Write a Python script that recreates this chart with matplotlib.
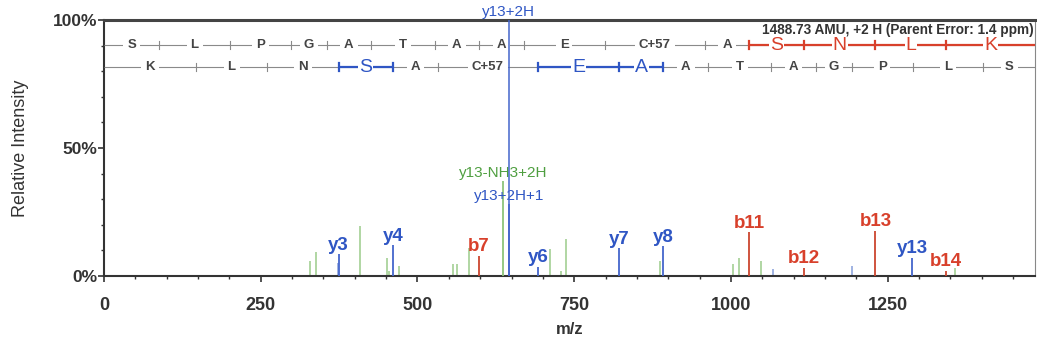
import matplotlib
matplotlib.use("Agg")
import matplotlib.pyplot as plt
import numpy as np

plt.rcParams['font.family'] = ['Liberation Sans', 'DejaVu Sans']

# ---------------- data ----------------
x_max = 1485.0
header = "1488.73 AMU, +2 H (Parent Error: 1.4 ppm)"

# b-ladder (forward) and y-ladder (reverse)
b_residues = ["S", "L", "P", "G", "A", "T", "A", "A", "E", "C+57", "A", "S", "N", "L", "K"]
b_ion_mz = [88.04, 201.12, 298.18, 355.20, 426.23, 527.28, 598.32, 669.36,
            798.40, 958.43, 1029.47, 1116.50, 1230.54, 1343.63]
b_observed = [7, 11, 12, 13, 14]

y_residues = ["K", "L", "N", "S", "A", "C+57", "E", "A", "A", "T", "A", "G", "P", "L", "S"]
y_ion_mz = [147.11, 260.20, 374.24, 461.27, 532.31, 692.34, 821.38, 892.42,
            963.46, 1064.51, 1135.55, 1192.57, 1289.62, 1402.71]
y_observed = [3, 4, 6, 7, 8, 13]

# labelled peaks
lab_mz = [374.2, 461.3, 598.3, 692.3, 821.4, 892.4, 1029.5, 1116.5, 1230.5, 1289.6, 1343.6]
lab_int = [8.5, 12.0, 8.0, 3.6, 10.8, 11.7, 17.0, 3.3, 17.6, 7.2, 2.0]
lab_text = ["y3", "y4", "b7", "y6", "y7", "y8", "b11", "b12", "b13", "y13", "b14"]
lab_kind = ["y", "y", "b", "y", "y", "y", "b", "b", "b", "y", "b"]

# doubly charged / neutral-loss peaks
small_mz = [636.8, 645.8]
small_int = [37.0, 28.0]
small_text = ["y13-NH3+2H", "y13+2H+1"]
small_kind = ["g", "y"]

base_mz = 645.3
base_int = 100.0
base_text = "y13+2H"

# unlabelled peaks
other_mz = [327.8, 338.0, 408.7, 452.0, 455.0, 471.0, 556.0, 563.0, 582.5,
            711.5, 729.6, 737.3, 887.6, 1003.6, 1012.6, 1048.0, 1358.0, 1067.0, 1193.6, 372.8]
other_int = [5.9, 9.5, 19.6, 7.0, 2.0, 4.0, 4.6, 4.6, 11.0,
             10.5, 2.0, 14.5, 5.9, 4.6, 7.2, 5.9, 3.3, 2.6, 4.0, 5.0]
other_kind = ["g"] * 17 + ["y", "y", "y"]

# ---------------- style ----------------
label_col = {"b": "#d8402b", "y": "#2f56c4", "g": "#4f9f40"}
peak_col = {"b": "#cc452f", "y": "#4466cc", "g": "#8cc47a"}
other_col = {"g": "#a3cf93", "y": "#8fa5dd"}
gray = "#8a8a8a"
txt = "#333333"

fig = plt.figure(figsize=(10.37, 3.49), dpi=100)
ax = fig.add_axes([104 / 1037, 73 / 349, 931 / 1037, 256 / 349])
ax.set_xlim(0, x_max)
ax.set_ylim(0, 100)

# unlabelled peaks
for mz, it, k in zip(other_mz, other_int, other_kind):
    ax.vlines(mz, 0, it, color=other_col[k], lw=1.2, zorder=2)

# labelled peaks
for mz, it, t, k in zip(lab_mz, lab_int, lab_text, lab_kind):
    ax.vlines(mz, 0, it, color=peak_col[k], lw=1.3, zorder=3)
    ax.annotate(t, (mz, it), xytext=(0, 6.5), textcoords="offset points",
                ha="center", va="center", fontsize=13.5, fontweight="bold",
                color=label_col[k], zorder=6)

for mz, it, t, k in zip(small_mz, small_int, small_text, small_kind):
    ax.vlines(mz, 0, it, color=peak_col[k], lw=1.3, zorder=3)
    ax.annotate(t, (mz, it), xytext=(0, 6), textcoords="offset points",
                ha="center", va="center", fontsize=11, color=label_col[k], zorder=6)

ax.vlines(base_mz, 0, base_int, color=peak_col["y"], lw=1.1, zorder=7)
ax.annotate(base_text, (base_mz, base_int), xytext=(0, 5.5), textcoords="offset points",
            ha="center", va="center", fontsize=11, color=label_col["y"],
            annotation_clip=False, zorder=8)


def ladder(yrow, residues, ions, observed, col):
    bounds = [0.0] + list(ions) + [x_max]
    obs = set(observed)
    obs.add(len(ions) + 1)
    ax.plot([0, x_max], [yrow, yrow], color=gray, lw=0.8, zorder=3, solid_capstyle="butt")
    colored = []
    for i, res in enumerate(residues):
        lo, hi = bounds[i], bounds[i + 1]
        c = (i in obs) and ((i + 1) in obs)
        colored.append(c)
        if c:
            ax.plot([lo, hi], [yrow, yrow], color=col, lw=1.6, zorder=4, solid_capstyle="butt")
    for j, m in enumerate(ions):
        cc = colored[j] or colored[j + 1]
        ax.plot([m, m], [yrow - 1.7, yrow + 1.7], color=col if cc else gray,
                lw=1.6 if cc else 0.8, zorder=5)
    for i, res in enumerate(residues):
        mid = (bounds[i] + bounds[i + 1]) / 2
        if colored[i]:
            ax.text(mid, yrow, res, ha="center", va="center", fontsize=14, color=col, zorder=6,
                    bbox=dict(boxstyle="square,pad=0.05", fc="white", ec="none"))
        else:
            ax.text(mid, yrow, res, ha="center", va="center", fontsize=9.5, color="#444444",
                    fontweight="bold", zorder=6,
                    bbox=dict(boxstyle="square,pad=0.3", fc="white", ec="none"))


ladder(90.2, b_residues, b_ion_mz, b_observed, label_col["b"])
ladder(81.6, y_residues, y_ion_mz, y_observed, label_col["y"])

ax.text(0.999, 0.962, header, transform=ax.transAxes, ha="right", va="center",
        fontsize=9.8, color="#333333", fontweight="bold", zorder=9)

# axes styling
for s in ["left", "bottom"]:
    ax.spines[s].set_color("#333333")
    ax.spines[s].set_linewidth(1.5)
ax.spines["top"].set_color("#444444")
ax.spines["top"].set_linewidth(2.2)
ax.spines["right"].set_color("#888888")
ax.spines["right"].set_linewidth(0.8)

ax.set_xticks([0, 250, 500, 750, 1000, 1250])
ax.set_xticks(np.arange(0, x_max, 50), minor=True)
ax.set_yticks([0, 50, 100])
ax.set_yticklabels(["0%", "50%", "100%"])
ax.set_yticks(np.arange(0, 101, 10), minor=True)
ax.tick_params(axis="both", which="major", length=4, width=1.2, color="#333333",
               labelcolor=txt, direction="out")
ax.tick_params(axis="x", which="major", labelsize=13, pad=11)
ax.tick_params(axis="y", which="major", labelsize=12.5, pad=1)
ax.tick_params(axis="both", which="minor", length=2.5, width=1, color="#333333", direction="out")
for lbl in ax.get_xticklabels() + ax.get_yticklabels():
    lbl.set_fontweight("bold")

ax.set_xlabel("m/z", fontsize=12, color=txt, fontweight="bold", labelpad=6)
ax.set_ylabel("Relative Intensity", fontsize=13, color=txt, labelpad=17)

fig.savefig("out.png", dpi=100)
